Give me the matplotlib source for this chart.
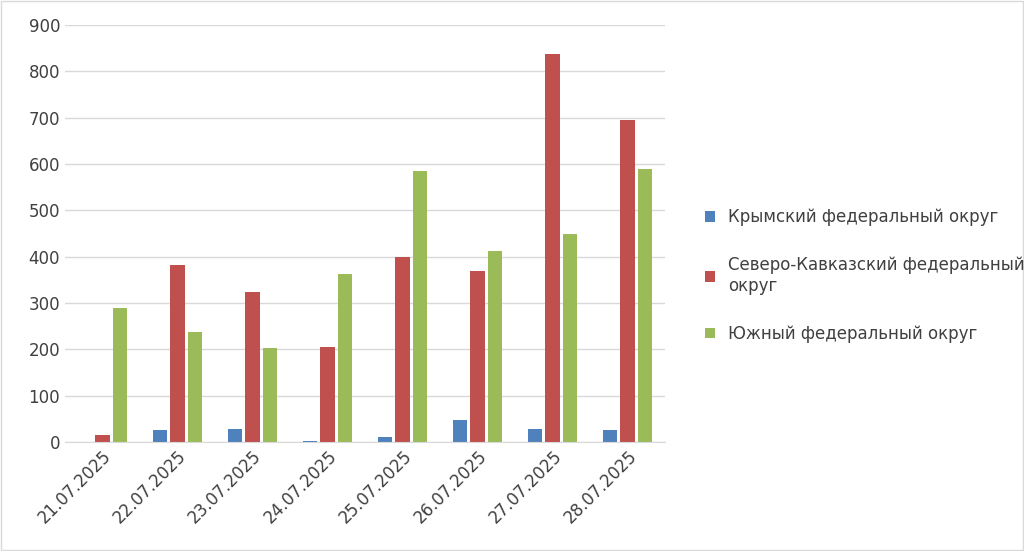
import matplotlib.pyplot as plt
import numpy as np

dates = ['21.07.2025','22.07.2025','23.07.2025','24.07.2025','25.07.2025','26.07.2025','27.07.2025','28.07.2025']
crimea = [0, 25, 27, 3, 10, 48, 29, 26]
nkavkaz = [15, 381, 324, 205, 400, 370, 838, 695]
south = [290, 237, 203, 362, 585, 412, 449, 589]
series = ['Крымский федеральный округ', 'Северо-Кавказский федеральный\nокруг', 'Южный федеральный округ']
colors = ['#4F81BD', '#C0504D', '#9BBB59']

fig = plt.figure(figsize=(10.24, 5.51), dpi=100)
ax = fig.add_axes([65/1024, 1-442/551, 600/1024, 417/551])
x = np.arange(len(dates))
w = 0.19
for i, (vals, lab, c) in enumerate(zip([crimea, nkavkaz, south], series, colors)):
    ax.bar(x + (i-1)*0.23, vals, w, color=c, label=lab)
ax.set_ylim(0, 900)
ax.set_xlim(-0.5, len(dates)-0.5)
ax.set_yticks(range(0, 901, 100))
ax.yaxis.grid(True, color='#D9D9D9', lw=1)
ax.set_axisbelow(True)
for s in ['top', 'right', 'left']:
    ax.spines[s].set_visible(False)
ax.spines['bottom'].set_color('#D9D9D9')
ax.tick_params(axis='y', length=0, labelsize=12, colors='#404040')
ax.tick_params(axis='x', length=0, labelsize=12, colors='#404040')
ax.set_xticks(x)
ax.set_xticklabels(dates, rotation=45, ha='right', rotation_mode='anchor')
fig.legend(loc='center left', bbox_to_anchor=(690/1024, 0.5), frameon=False,
           fontsize=12, labelcolor='#404040', handlelength=0.6, handleheight=0.6,
           labelspacing=1.8)
fig.patches.append(plt.Rectangle((0.001, 0.001), 0.998, 0.998, transform=fig.transFigure,
                                 fill=False, ec='#D9D9D9', lw=1))
fig.savefig('out.png', dpi=100)
